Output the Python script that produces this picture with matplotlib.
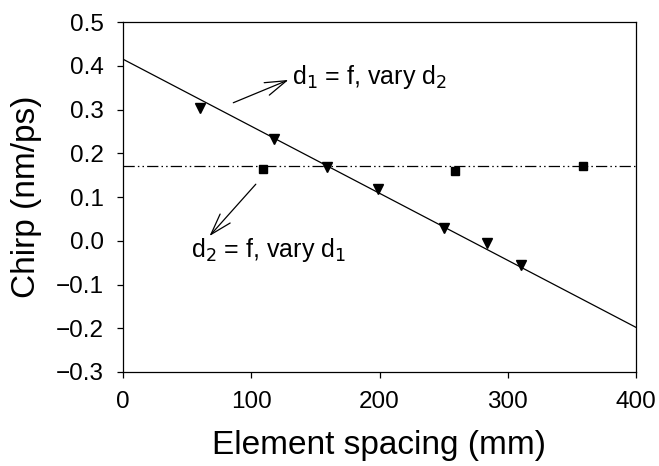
import numpy as np
import matplotlib.pyplot as plt

plt.rcParams['font.family'] = ['Liberation Sans', 'DejaVu Sans']

# data
vary_d2_x = [60, 118, 159, 199, 250, 284, 310]
vary_d2_y = [0.303, 0.233, 0.169, 0.118, 0.030, -0.006, -0.055]
vary_d1_x = [109, 259, 359]
vary_d1_y = [0.163, 0.160, 0.171]
fit_x = [0, 400]
fit_y = [0.415, -0.198]
flat_level = 0.171

fig = plt.figure(figsize=(6.59, 4.66), dpi=100)
ax = fig.add_axes([123/659, 1 - 372/466, 513/659, 350/466])

ax.plot(fit_x, fit_y, color='black', lw=0.9)
ax.axhline(flat_level, color='black', lw=0.9, linestyle=(0, (9, 2.5, 1.2, 2.5, 1.2, 2.5)))
ax.plot(vary_d2_x, vary_d2_y, 'v', color='black', ms=7, ls='none')
ax.plot(vary_d1_x, vary_d1_y, 's', color='black', ms=6, ls='none')

ax.set_xlim(0, 400)
ax.set_ylim(-0.3, 0.5)
ax.set_xticks([0, 100, 200, 300, 400])
ax.set_yticks(np.arange(-0.3, 0.51, 0.1))
ax.set_yticklabels(['\u22120.3', '\u22120.2', '\u22120.1', '0.0', '0.1', '0.2', '0.3', '0.4', '0.5'])
ax.tick_params(direction='out', length=4, width=0.9, labelsize=17.5, pad=10)
for s in ax.spines.values():
    s.set_linewidth(0.9)

ax.set_xlabel('Element spacing (mm)', fontsize=24, labelpad=12)
ax.set_ylabel('Chirp (nm/ps)', fontsize=24, labelpad=10)

arrow = dict(arrowstyle='->,head_length=0.7,head_width=0.22', color='black', lw=0.9, mutation_scale=22)
ax.annotate('', xy=(131, 0.370), xytext=(84, 0.313), arrowprops=arrow)
ax.text(132, 0.374, r'd$_1$ = f, vary d$_2$', fontsize=18, va='center', ha='left')
ax.annotate('', xy=(66, 0.006), xytext=(105, 0.134), arrowprops=arrow)
ax.text(53, -0.021, r'd$_2$ = f, vary d$_1$', fontsize=18, va='center', ha='left')

fig.savefig('out.png', dpi=100)
